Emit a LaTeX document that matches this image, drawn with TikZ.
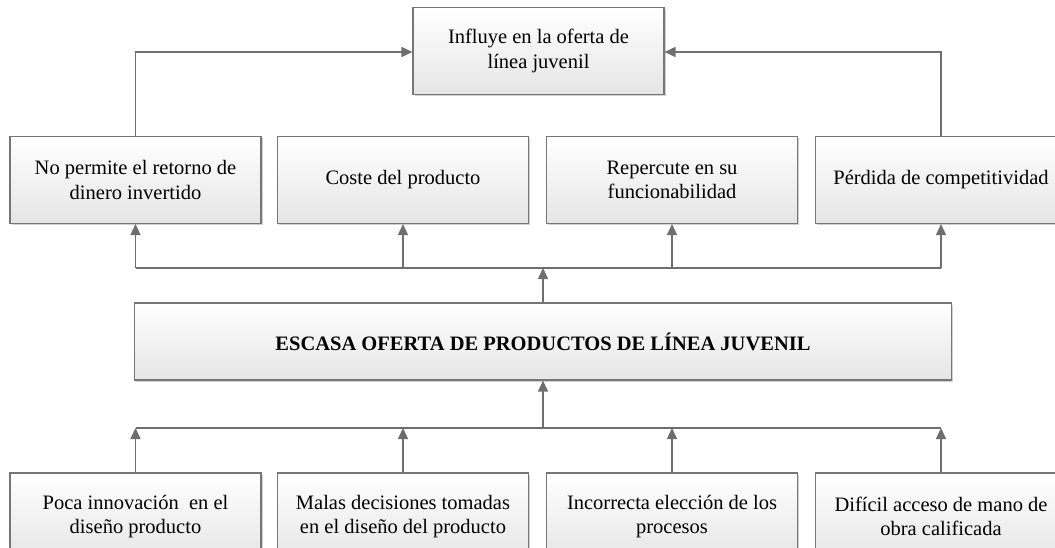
\documentclass[tikz,border=0pt]{standalone}
\usepackage{fontspec}
\setmainfont{Liberation Serif}
\usetikzlibrary{arrows.meta,shadows}
\definecolor{edge}{HTML}{767676}
\definecolor{conn}{HTML}{6E6E6E}
\tikzset{
  box/.style={draw=edge, line width=1.1pt, top color=white, bottom color=black!10,
    minimum width=251pt, minimum height=87pt, align=center, inner sep=2pt,
    font=\fontsize{20.5}{24.5}\selectfont,
    drop shadow={shadow xshift=1.6pt, shadow yshift=-1.6pt, fill=black!18, opacity=1}},
  conn/.style={draw=conn, line width=1.5pt},
  arr/.style={conn, -{Triangle[length=11pt,width=10pt]}}
}
\begin{document}
\begin{tikzpicture}[x=1pt,y=-1pt]
\useasboundingbox (0,0) rectangle (1055,548);
\clip (0,0) rectangle (1055,548);
% top
\node[box, minimum height=86.5pt] (top) at (538.5,51) {Influye en la oferta de\\línea juvenil};
% effects row
\node[box] (e1) at (135.5,180) {No permite el retorno de\\dinero invertido};
\node[box] (e2) at (403,180) {Coste del producto};
\node[box] (e3) at (672,180) {Repercute en su\\funcionabilidad};
\node[box] (e4) at (941,180) {Pérdida de competitividad};
% main
\node[box, minimum width=817.5pt, minimum height=77pt, font=\fontsize{20.5}{24.5}\selectfont\bfseries] (main) at (543,341.5) {ESCASA OFERTA DE PRODUCTOS DE LÍNEA JUVENIL};
% causes row
\node[box] (c1) at (135.5,516.5) {Poca innovación~\ en el\\diseño producto};
\node[box] (c2) at (403,516.5) {Malas decisiones tomadas\\en el diseño del producto};
\node[box] (c3) at (672,516.5) {Incorrecta elección de los\\procesos};
\node[box] (c4) at (941,516.5) {Difícil acceso de mano de\\obra calificada};
% junction coordinates
\coordinate (uy) at (0,268);
\coordinate (ly) at (0,428);
\coordinate (ty) at (0,52);
% effects to top
\draw[arr] (e1.north) -- (e1.north |- ty) -- (top.west |- ty);
\draw[arr] (e4.north) -- (e4.north |- ty) -- (top.east |- ty);
% main to effects
\draw[arr] (main.north) -- (main.north |- uy);
\draw[conn] (e1.south |- uy) -- (e4.south |- uy);
\draw[arr] (e1.south |- uy) -- (e1.south);
\draw[arr] (e2.south |- uy) -- (e2.south);
\draw[arr] (e3.south |- uy) -- (e3.south);
\draw[arr] (e4.south |- uy) -- (e4.south);
% causes to main
\draw[conn] (c1.north |- ly) -- (c4.north |- ly);
\draw[arr] (main.south |- ly) -- (main.south);
\draw[arr] (c1.north) -- (c1.north |- ly);
\draw[arr] (c2.north) -- (c2.north |- ly);
\draw[arr] (c3.north) -- (c3.north |- ly);
\draw[arr] (c4.north) -- (c4.north |- ly);
\end{tikzpicture}
\end{document}
